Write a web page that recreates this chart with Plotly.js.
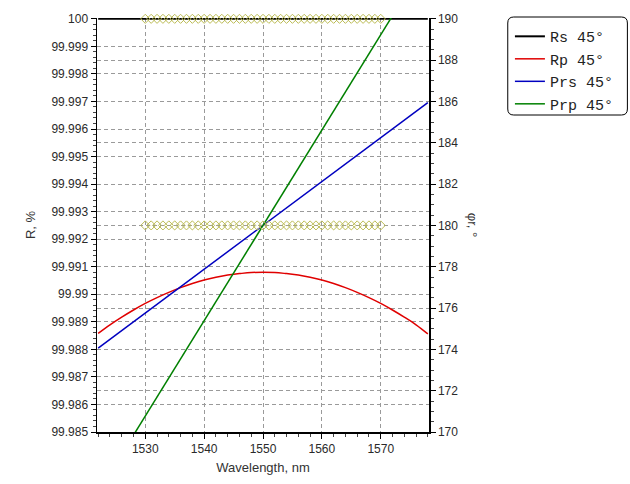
<!DOCTYPE html>
<html>
<head>
<meta charset="utf-8">
<script src="https://cdn.plot.ly/plotly-3.0.1.min.js"></script>
<style>html,body{margin:0;padding:0;background:#fff;}#chart{width:630px;height:484px;}</style>
</head>
<body>
<div id="chart"></div>
<script>
// Wavelength grid (nm)
const wl = [1522,1524,1526,1528,1530,1532,1534,1536,1538,1540,1542,1544,1546,1548,1550,
            1552,1554,1556,1558,1560,1562,1564,1566,1568,1570,1572,1574,1576,1578];
// Rs 45° (%)
const rs = [100,100,100,100,100,100,100,100,100,100,100,100,100,100,100,
            100,100,100,100,100,100,100,100,100,100,100,100,100,100];
// Rp 45° (%)
const rp = [99.98858,99.98889,99.98917,99.98943,99.98967,99.98988,99.99007,99.99024,99.99039,99.99052,
            99.99062,99.99070,99.99075,99.99079,99.99080,99.99079,99.99075,99.99070,99.99062,99.99052,
            99.99039,99.99024,99.99007,99.98988,99.98967,99.98943,99.98917,99.98889,99.98856];
// Phase curves (deg)
const phWl = [1522,1530,1540,1550,1560,1570,1578];
const prs = [174.06,175.76,177.88,180.0,182.12,184.24,185.94];
const prp = [167.08,170.77,175.38,180.0,184.62,189.23,192.92];
// Target markers
const tgtWl = [1530,1531,1532,1533,1534,1535,1536,1537,1538,1539,1540,1541,1542,1543,1544,1545,1546,1547,1548,1549,1550,
               1551,1552,1553,1554,1555,1556,1557,1558,1559,1560,1561,1562,1563,1564,1565,1566,1567,1568,1569,1570];
const tgtR = tgtWl.map(() => 100);
const tgtPh = tgtWl.map(() => 180);

const xTicks = [1530,1540,1550,1560,1570];
const yTicks = [99.985,99.986,99.987,99.988,99.989,99.99,99.991,99.992,99.993,99.994,99.995,99.996,99.997,99.998,99.999,100];
const yTickText = ['99.985','99.986','99.987','99.988','99.989','99.99','99.991','99.992','99.993','99.994','99.995','99.996','99.997','99.998','99.999','100'];
const y2Ticks = [170,172,174,176,178,180,182,184,186,188,190];

const mk = {symbol:'diamond-open', size:7, color:'#bcbc55', line:{width:1, color:'#b4b44a'}};

const traces = [
  {x: wl, y: rs, type:'scatter', mode:'lines', name:'Rs 45°', line:{color:'#000000', width:2}, yaxis:'y'},
  {x: wl, y: rp, type:'scatter', mode:'lines', name:'Rp 45°', line:{color:'#e00000', width:1.5, shape:'spline'}, yaxis:'y'},
  {x: phWl, y: prs, type:'scatter', mode:'lines', name:'Prs 45°', line:{color:'#0000c0', width:1.5}, yaxis:'y2'},
  {x: phWl, y: prp, type:'scatter', mode:'lines', name:'Prp 45°', line:{color:'#008000', width:1.5}, yaxis:'y2'},
  {x: tgtWl, y: tgtR, type:'scatter', mode:'markers', marker: mk, showlegend:false, cliponaxis:false, yaxis:'y'},
  {x: tgtWl, y: tgtPh, type:'scatter', mode:'markers', marker: mk, showlegend:false, cliponaxis:false, yaxis:'y2'}
];

const tickFont = {family:'Liberation Sans, Arial, sans-serif', size:12, color:'#2a2a2a'};
const gridStyle = {showgrid:true, gridcolor:'#9a9a9a', griddash:'4px,3px', gridwidth:1};

const r = 6;
const x0 = 509, x1 = 629, yT = 17, yB = 115;
const px = v => (v - 97) / 333;
const py = v => (432 - v) / 414;
const framePath = `M ${px(x0+r)} ${py(yT)} L ${px(x1-r)} ${py(yT)} Q ${px(x1)} ${py(yT)} ${px(x1)} ${py(yT+r)} ` +
  `L ${px(x1)} ${py(yB-r)} Q ${px(x1)} ${py(yB)} ${px(x1-r)} ${py(yB)} L ${px(x0+r)} ${py(yB)} ` +
  `Q ${px(x0)} ${py(yB)} ${px(x0)} ${py(yB-r)} L ${px(x0)} ${py(yT+r)} Q ${px(x0)} ${py(yT)} ${px(x0+r)} ${py(yT)} Z`;

const layout = {
  width:630, height:484,
  margin:{l:97, r:200, t:18, b:52},
  paper_bgcolor:'#ffffff', plot_bgcolor:'#ffffff',
  showlegend:true,
  legend:{x:1.24, y:0.995, xanchor:'left', yanchor:'top', bgcolor:'rgba(0,0,0,0)', borderwidth:0,
          font:{family:'Liberation Mono, Courier New, monospace', size:15, color:'#222'}, itemwidth:30, tracegroupgap:0},
  xaxis: Object.assign({
    range:[1521.8, 1578.2], tickvals:xTicks, ticks:'outside', ticklen:5, tickcolor:'#000',
    showline:true, linecolor:'#000', linewidth:1.5, zeroline:false, tickfont:tickFont,
    minor:{dtick:2, ticks:'outside', ticklen:3, tickcolor:'#444', showgrid:false},
    title:{text:'Wavelength, nm', font:{family:'Liberation Sans, Arial, sans-serif', size:13, color:'#333'}, standoff:8}
  }, gridStyle),
  yaxis: Object.assign({
    range:[99.985, 100.00003], tickvals:yTicks, ticktext:yTickText, ticks:'outside', ticklen:5, tickcolor:'#000',
    showline:true, linecolor:'#000', linewidth:1.5, zeroline:false, tickfont:tickFont,
    minor:{dtick:0.0002, tick0:99.985, ticks:'outside', ticklen:3, tickcolor:'#444', showgrid:false},
    title:{text:'R, %', font:{family:'Liberation Sans, Arial, sans-serif', size:13, color:'#333'}, standoff:13}
  }, gridStyle),
  yaxis2: Object.assign({
    overlaying:'y', side:'right', range:[170, 190.04], tickvals:y2Ticks, ticks:'outside', ticklen:5, tickcolor:'#000',
    showline:true, linecolor:'#000', linewidth:1.5, zeroline:false, tickfont:tickFont,
    minor:{dtick:0.5, tick0:170, ticks:'outside', ticklen:3, tickcolor:'#444', showgrid:false}
  }, gridStyle),
  annotations:[
    {text:'φr, °', xref:'paper', yref:'paper', x:1.162, y:0.5, showarrow:false, textangle:90,
     font:{family:'Liberation Sans, Arial, sans-serif', size:13, color:'#333'}}
  ],
  shapes:[
    {type:'path', xref:'paper', yref:'paper', path:framePath, line:{color:'#000', width:1}, layer:'above'}
  ]
};

Plotly.newPlot('chart', traces, layout, {displayModeBar:false, staticPlot:true});
</script>
</body>
</html>
